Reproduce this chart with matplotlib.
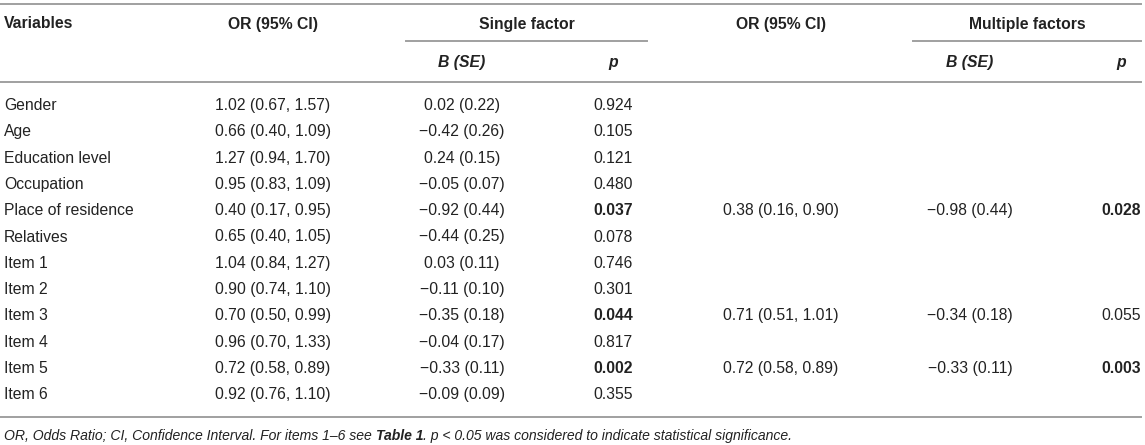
import matplotlib.pyplot as plt

plt.rcParams['font.family'] = ['Liberation Sans', 'DejaVu Sans']

variables = ["Gender", "Age", "Education level", "Occupation", "Place of residence",
             "Relatives", "Item 1", "Item 2", "Item 3", "Item 4", "Item 5", "Item 6"]
or_single = ["1.02 (0.67, 1.57)", "0.66 (0.40, 1.09)", "1.27 (0.94, 1.70)",
             "0.95 (0.83, 1.09)", "0.40 (0.17, 0.95)", "0.65 (0.40, 1.05)",
             "1.04 (0.84, 1.27)", "0.90 (0.74, 1.10)", "0.70 (0.50, 0.99)",
             "0.96 (0.70, 1.33)", "0.72 (0.58, 0.89)", "0.92 (0.76, 1.10)"]
b_single = ["0.02 (0.22)", "\u22120.42 (0.26)", "0.24 (0.15)", "\u22120.05 (0.07)",
            "\u22120.92 (0.44)", "\u22120.44 (0.25)", "0.03 (0.11)", "\u22120.11 (0.10)",
            "\u22120.35 (0.18)", "\u22120.04 (0.17)", "\u22120.33 (0.11)", "\u22120.09 (0.09)"]
p_single = ["0.924", "0.105", "0.121", "0.480", "0.037", "0.078",
            "0.746", "0.301", "0.044", "0.817", "0.002", "0.355"]
or_multi = ["", "", "", "", "0.38 (0.16, 0.90)", "", "", "", "0.71 (0.51, 1.01)",
            "", "0.72 (0.58, 0.89)", ""]
b_multi = ["", "", "", "", "\u22120.98 (0.44)", "", "", "", "\u22120.34 (0.18)",
           "", "\u22120.33 (0.11)", ""]
p_multi = ["", "", "", "", "0.028", "", "", "", "0.055", "", "0.003", ""]

W, H = 1145, 445
fig = plt.figure(figsize=(W / 100, H / 100), dpi=100)
ax = fig.add_axes([0, 0, 1, 1])
ax.set_xlim(0, W)
ax.set_ylim(H, 0)
ax.axis('off')

txt = '#222222'
line_c = '#a0a0a0'
fs = 11.3

# column centres
c_or1, c_b1, c_p1 = 273, 462, 613
c_or2, c_b2, c_p2 = 781, 970, 1121

# rules
ax.plot([0, 1141], [4, 4], color=line_c, lw=1.4)
ax.plot([406, 647], [41, 41], color=line_c, lw=1.4)
ax.plot([913, 1141], [41, 41], color=line_c, lw=1.4)
ax.plot([0, 1141], [82, 82], color=line_c, lw=1.4)
ax.plot([0, 1141], [417, 417], color=line_c, lw=1.4)

# headers
hy1, hy2 = 28.5, 67.5
ax.text(4, hy1, "Variables", fontsize=fs, fontweight='bold', color=txt, va='baseline')
ax.text(c_or1, hy1, "OR (95% CI)", fontsize=fs, fontweight='bold', color=txt, va='baseline', ha='center')
ax.text(527, hy1, "Single factor", fontsize=fs, fontweight='bold', color=txt, va='baseline', ha='center')
ax.text(c_or2, hy1, "OR (95% CI)", fontsize=fs, fontweight='bold', color=txt, va='baseline', ha='center')
ax.text(1027, hy1, "Multiple factors", fontsize=fs, fontweight='bold', color=txt, va='baseline', ha='center')
for cx, s in [(c_b1, "B (SE)"), (c_p1, "p"), (c_b2, "B (SE)"), (c_p2, "p")]:
    ax.text(cx, hy2, s, fontsize=fs, fontweight='bold', style='italic', color=txt,
            va='baseline', ha='center')

# body
y0, dy = 110, 26.3
for i, name in enumerate(variables):
    y = y0 + i * dy
    ax.text(4, y, name, fontsize=fs, color=txt, va='baseline')
    ax.text(c_or1, y, or_single[i], fontsize=fs, color=txt, va='baseline', ha='center')
    ax.text(c_b1, y, b_single[i], fontsize=fs, color=txt, va='baseline', ha='center')
    ax.text(c_p1, y, p_single[i], fontsize=fs, color=txt, va='baseline', ha='center',
            fontweight='bold' if float(p_single[i]) < 0.05 else 'normal')
    if or_multi[i]:
        ax.text(c_or2, y, or_multi[i], fontsize=fs, color=txt, va='baseline', ha='center')
        ax.text(c_b2, y, b_multi[i], fontsize=fs, color=txt, va='baseline', ha='center')
        ax.text(c_p2, y, p_multi[i], fontsize=fs, color=txt, va='baseline', ha='center',
                fontweight='bold' if float(p_multi[i]) < 0.05 else 'normal')

# footnote, built piece by piece
pieces = [("OR, Odds Ratio; CI, Confidence Interval. For items 1\u20136 see ", 'normal'),
          ("Table 1", 'bold'),
          (". p < 0.05 was considered to indicate statistical significance.", 'normal')]
fig.canvas.draw()
renderer = fig.canvas.get_renderer()
x = 4
for s, wt in pieces:
    t = ax.text(x, 440, s, fontsize=10.1, style='italic', fontweight=wt, color=txt, va='baseline')
    bb = t.get_window_extent(renderer=renderer)
    x += bb.width

fig.savefig('out.png', dpi=100)
